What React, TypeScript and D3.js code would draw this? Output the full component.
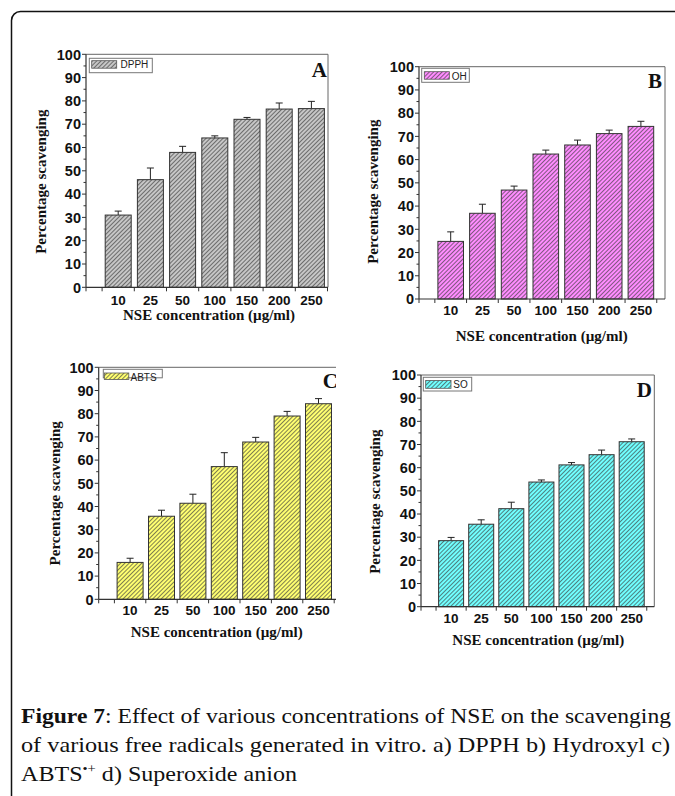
import React from "react";
import * as d3 from "d3";

const categories = ["10", "25", "50", "100", "150", "200", "250"];
const dpphValues = [31.0, 46.2, 57.9, 64.1, 72.1, 76.5, 76.7];
const dpphErrors = [1.7, 5.0, 2.6, 0.9, 0.8, 2.6, 3.1];
const ohValues = [24.8, 36.9, 46.9, 62.4, 66.3, 71.2, 74.3];
const ohErrors = [4.1, 3.9, 1.7, 1.7, 2.1, 1.5, 2.2];
const abtsValues = [15.9, 35.8, 41.4, 57.2, 67.8, 79.0, 84.3];
const abtsErrors = [1.8, 2.6, 3.9, 6.0, 2.0, 2.0, 2.2];
const soValues = [28.5, 35.6, 42.3, 53.8, 61.2, 65.6, 71.2];
const soErrors = [1.4, 1.9, 2.8, 0.9, 1.0, 2.0, 1.2];
const yMajorTicks = [0, 10, 20, 30, 40, 50, 60, 70, 80, 90, 100];
const seriesNames = ["DPPH", "OH", "ABTS", "SO"];
const panelLetters = ["A", "B", "C", "D"];
const xTitle = "NSE concentration (µg/ml)";
const yTitle = "Percentage scavenging";

type Layout = {
  left: number; right: number; y100: number; y0: number; pitch: number; barW: number;
  tickBase: number; xTitleX: number; xTitleY: number; yTitleX: number; yTitleY: number;
  letterX: number; letterY: number;
  leg: { x: number; y: number; w: number; h: number; sx: number; sy: number; sw: number; sh: number; tx: number; ty: number };
  base: string; clipRight?: number;
};

const layouts: Layout[] = [
  {
    left: 86, right: 328, y100: 54.3, y0: 287.3, pitch: 32.2, barW: 26,
    tickBase: 305, xTitleX: 209, xTitleY: 320, yTitleX: 46, yTitleY: 181.7,
    letterX: 327, letterY: 77,
    leg: { x: 89.3, y: 58.3, w: 63, h: 14.4, sx: 91.7, sy: 60.7, sw: 25, sh: 7.5, tx: 120.5, ty: 68.2 },
    base: "#c6c6c6",
  },
  {
    left: 419, right: 665, y100: 66.7, y0: 299, pitch: 31.7, barW: 25.6,
    tickBase: 315, xTitleX: 541.7, xTitleY: 341, yTitleX: 378, yTitleY: 191.7,
    letterX: 662, letterY: 88,
    leg: { x: 421.7, y: 68.3, w: 47.6, h: 14, sx: 424.3, sy: 71.7, sw: 25, sh: 7.5, tx: 451.7, ty: 79.5 },
    base: "#ff8cff",
  },
  {
    left: 98.7, right: 345, y100: 367.3, y0: 599.3, pitch: 31.4, barW: 26,
    tickBase: 615, xTitleX: 216.7, xTitleY: 637, yTitleX: 59.5, yTitleY: 493.3,
    letterX: 338, letterY: 388,
    leg: { x: 103.3, y: 369.3, w: 59, h: 8.5, sx: 104.3, sy: 373, sw: 24.5, sh: 6.5, tx: 130.5, ty: 381 },
    base: "#ffff70", clipRight: 336,
  },
  {
    left: 421, right: 654.3, y100: 375, y0: 606.7, pitch: 30.1, barW: 25,
    tickBase: 623, xTitleX: 538.3, xTitleY: 645, yTitleX: 379.5, yTitleY: 501.7,
    letterX: 652, letterY: 397,
    leg: { x: 423.3, y: 377.3, w: 48.4, h: 13.7, sx: 425.7, sy: 380.5, sw: 25.3, sh: 7.8, tx: 453.3, ty: 388.3 },
    base: "#70ffff",
  },
];

const valuesList = [dpphValues, ohValues, abtsValues, soValues];
const errorsList = [dpphErrors, ohErrors, abtsErrors, soErrors];

const numFont = "'Liberation Sans', Arial, sans-serif";
const serifFont = "'Liberation Serif', 'Times New Roman', serif";

function Panel({ idx }: { idx: number }) {
  const L = layouts[idx];
  const values = valuesList[idx];
  const errors = errorsList[idx];
  const nSlots = (L.right - L.left) / L.pitch;
  const x = d3.scaleLinear().domain([0, nSlots]).range([L.left, L.right]);
  const y = d3.scaleLinear().domain([0, 100]).range([L.y0, L.y100]);
  const minorTicks = d3.range(5, 100, 10);
  const xTicks = d3.range(0, nSlots + 0.01, 0.5).filter((t) => t === 0 || t % 1 === 0.5);
  const patId = `hatch${idx}`;
  const clipId = `clip${idx}`;
  const axisCol = "#333";
  const frameCol = "#666";
  return (
    <g clipPath={L.clipRight ? `url(#${clipId})` : undefined}>
      <defs>
        <pattern id={patId} patternUnits="userSpaceOnUse" width={3} height={3} patternTransform="rotate(45)">
          <rect width={3} height={3} fill={L.base} />
          <line x1={0.5} y1={0} x2={0.5} y2={3} stroke="#3a3a3a" strokeWidth={0.65} />
        </pattern>
        {L.clipRight ? (
          <clipPath id={clipId}>
            <rect x={0} y={0} width={L.clipRight} height={796} />
          </clipPath>
        ) : null}
      </defs>
      <line x1={L.left} x2={L.right} y1={L.y100} y2={L.y100} stroke={frameCol} strokeWidth={1} />
      <line x1={L.right} x2={L.right} y1={L.y100} y2={L.y0} stroke={frameCol} strokeWidth={1} />
      {categories.map((c, i) => {
        const cx = x(i + 1);
        return (
          <g key={c}>
            <line x1={cx} x2={cx} y1={y(values[i])} y2={y(values[i] + errors[i])} stroke="#222" strokeWidth={1} />
            <line x1={cx - 3.5} x2={cx + 3.5} y1={y(values[i] + errors[i])} y2={y(values[i] + errors[i])} stroke="#222" strokeWidth={1} />
            <rect
              x={cx - L.barW / 2}
              y={y(values[i])}
              width={L.barW}
              height={y(0) - y(values[i])}
              fill={`url(#${patId})`}
              stroke="#333"
              strokeWidth={1}
            />
          </g>
        );
      })}
      <line x1={L.left} x2={L.left} y1={L.y100} y2={L.y0} stroke={axisCol} strokeWidth={1.2} />
      <line x1={L.left} x2={L.right} y1={L.y0} y2={L.y0} stroke={axisCol} strokeWidth={1.2} />
      {yMajorTicks.map((t) => (
        <g key={`y${t}`}>
          <line x1={L.left - 4} x2={L.left} y1={y(t)} y2={y(t)} stroke={axisCol} strokeWidth={1} />
          <text
            x={L.left - 5}
            y={y(t)}
            dy="0.36em"
            textAnchor="end"
            fontFamily={numFont}
            fontWeight="bold"
            fontSize={14.5}
            fill="#111"
          >
            {t}
          </text>
        </g>
      ))}
      {minorTicks.map((t) => (
        <line key={`m${t}`} x1={L.left - 2.5} x2={L.left} y1={y(t)} y2={y(t)} stroke={axisCol} strokeWidth={1} />
      ))}
      {xTicks.map((t) => (
        <line key={`x${t}`} x1={x(t)} x2={x(t)} y1={L.y0} y2={L.y0 + 4} stroke={axisCol} strokeWidth={1} />
      ))}
      {categories.map((c, i) => (
        <text
          key={`xl${c}`}
          x={x(i + 1)}
          y={L.tickBase}
          textAnchor="middle"
          fontFamily={numFont}
          fontWeight="bold"
          fontSize={13.5}
          fill="#111"
        >
          {c}
        </text>
      ))}
      <text x={L.xTitleX} y={L.xTitleY} textAnchor="middle" fontFamily={serifFont} fontWeight="bold" fontSize={15} fill="#111">
        {xTitle}
      </text>
      <text
        transform={`translate(${L.yTitleX},${L.yTitleY}) rotate(-90)`}
        textAnchor="middle"
        fontFamily={serifFont}
        fontWeight="bold"
        fontSize={15}
        fill="#111"
      >
        {yTitle}
      </text>
      <text x={L.letterX} y={L.letterY} textAnchor="end" fontFamily={serifFont} fontWeight="bold" fontSize={21} fill="#111">
        {panelLetters[idx]}
      </text>
      <rect x={L.leg.x} y={L.leg.y} width={L.leg.w} height={L.leg.h} fill="white" stroke="#777" strokeWidth={1} />
      <rect x={L.leg.sx} y={L.leg.sy} width={L.leg.sw} height={L.leg.sh} fill={`url(#${patId})`} stroke="#555" strokeWidth={0.8} />
      <text x={L.leg.tx} y={L.leg.ty} fontFamily={numFont} fontSize={10} fill="#222">
        {seriesNames[idx]}
      </text>
    </g>
  );
}

export default function App() {
  return (
    <svg
      width={675}
      height={796}
      style={{ position: "absolute", left: 0, top: 0, background: "white" }}
    >
      <rect x={0} y={0} width={675} height={796} fill="white" />
      <rect x={11.5} y={11.5} width={720} height={820} rx={9} fill="none" stroke="#111" strokeWidth={1.5} />
      {[0, 1, 2, 3].map((i) => (
        <Panel key={i} idx={i} />
      ))}
      <g fontFamily={serifFont} fontSize={21.5} fill="#111">
        <text x={21} y={723} textLength={650} lengthAdjust="spacingAndGlyphs">
          <tspan fontWeight="bold">Figure 7</tspan>
          <tspan>: Effect of various concentrations of NSE on the scavenging</tspan>
        </text>
        <text x={21} y={752} textLength={649} lengthAdjust="spacingAndGlyphs">
          of various free radicals generated in vitro. a) DPPH b) Hydroxyl c)
        </text>
        <text x={21} y={781} textLength={276} lengthAdjust="spacingAndGlyphs">
          ABTS
          <tspan fontSize={13} dy={-8}>•+</tspan>
          <tspan dy={8}> d) Superoxide anion</tspan>
        </text>
      </g>
    </svg>
  );
}
